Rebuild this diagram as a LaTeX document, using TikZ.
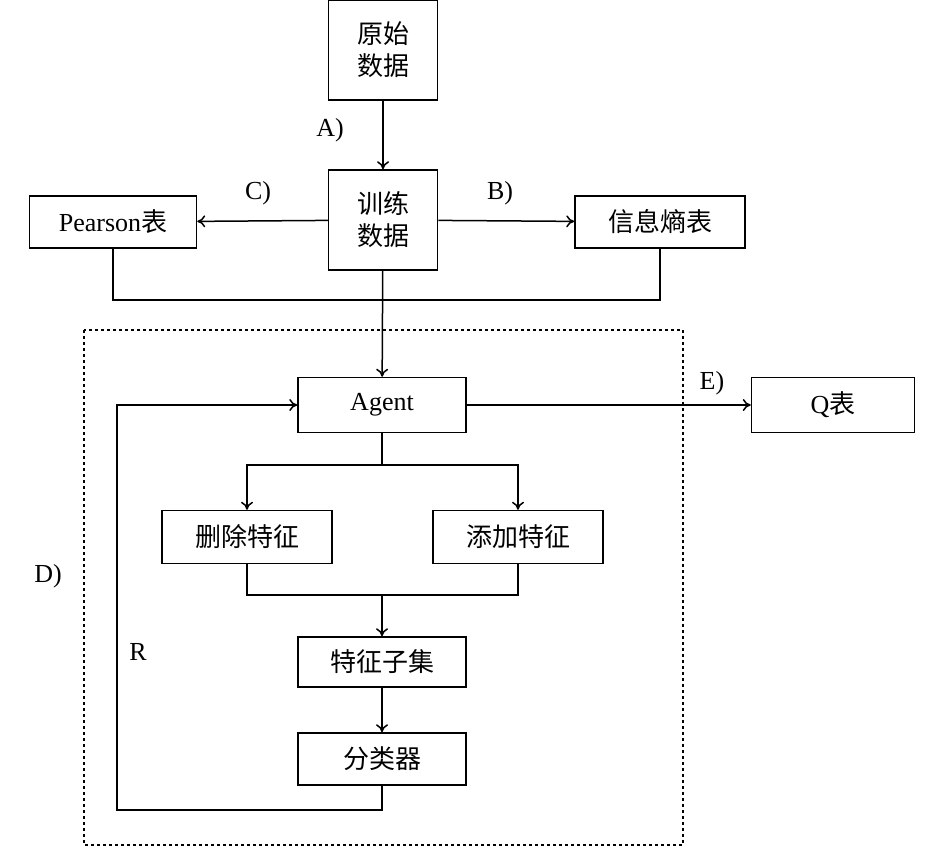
\documentclass[tikz,border=0pt]{standalone}
\usepackage{fontspec}
\setmainfont{Liberation Serif}
\newfontfamily\cjk{Noto Sans CJK SC}
\usetikzlibrary{arrows.meta}
\tikzset{
  box/.style={draw, line width=1.5pt, inner sep=0pt, font=\fontsize{26}{32}\selectfont\cjk},
  lbl/.style={font=\fontsize{26}{32}\selectfont},
  line/.style={line width=1.5pt},
  arr/.style={line width=1.5pt, -{To[length=8pt,width=12pt]}}
}
\begin{document}
\begin{tikzpicture}[x=1pt,y=-1pt]
 \useasboundingbox (0,0) rectangle (945,848);
 % boxes
 \node[box, minimum width=109pt, minimum height=100pt, align=center] (raw) at (383,50) {原始\\数据};
 \node[box, minimum width=109pt, minimum height=100pt, align=center] (train) at (383,220) {训练\\数据};
 \node[box, minimum width=167pt, minimum height=52pt] (pear) at (113,222) {{\rmfamily Pearson}表};
 \node[box, minimum width=170pt, minimum height=52pt] (ent) at (660,222) {信息熵表};
 \node[box, minimum width=168pt, minimum height=55pt] (agent) at (382,405) {\rmfamily Agent};
 \node[box, minimum width=163pt, minimum height=55pt] (q) at (833,405) {{\rmfamily Q}表};
 \node[box, minimum width=170pt, minimum height=53pt] (del) at (247,537) {删除特征};
 \node[box, minimum width=170pt, minimum height=53pt] (add) at (518,537) {添加特征};
 \node[box, minimum width=168pt, minimum height=50pt] (sub) at (382,662) {特征子集};
 \node[box, minimum width=168pt, minimum height=52pt] (cls) at (382,759) {分类器};
 \draw[line width=1.5pt, dashed] (84,330) rectangle (683,845);
 % labels
 \node[lbl] at (330,130) {A)};
 \node[lbl] at (258,193) {C)};
 \node[lbl] at (500,193) {B)};
 \node[lbl] at (712,383) {E)};
 \node[lbl] at (48,576) {D)};
 \node[lbl] at (138,652) {R};
 % connectors
 \draw[arr] (raw) -- (train);
 \draw[arr] (train) -- (pear);
 \draw[arr] (train) -- (ent);
 \draw[line] (pear.south) -- (113,300) -- (660,300) -- (ent.south);
 \draw[arr] (train) -- (agent);
 \draw[arr] (agent) -- (q);
 \coordinate (split) at (382,465);
 \draw[line] (agent) -- (split);
 \draw[arr] (split) -| (del);
 \draw[arr] (split) -| (add);
 \coordinate (join) at (382,595);
 \draw[line] (del.south) |- (join) -| (add.south);
 \draw[arr] (join) -- (sub);
 \draw[arr] (sub) -- (cls);
 \draw[arr] (cls.south) -- (382,810) -- (117,810) |- (agent.west);
\end{tikzpicture}
\end{document}
